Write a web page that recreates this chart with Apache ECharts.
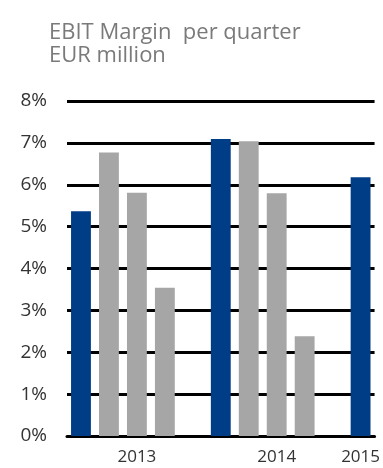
<!DOCTYPE html>
<html>
<head>
<meta charset="utf-8">
<script src="https://cdn.jsdelivr.net/npm/echarts@6/dist/echarts.min.js"></script>
<style>html,body{margin:0;padding:0;background:#fff}#c{width:383px;height:468px}</style>
</head>
<body>
<div id="c"></div>
<script>
// Categories: one slot per quarter, with empty slots separating years
const slots = ['2013Q1','2013Q2','2013Q3','2013Q4','gap1','2014Q1','2014Q2','2014Q3','2014Q4','gap2','2015Q1'];
const slotLabels = ['', '', '2013', '', '', '', '', '2014', '', '', '2015'];
const quarters = ['Q1','Q2','Q3','Q4', null, 'Q1','Q2','Q3','Q4', null, 'Q1'];
const margins = [5.37, 6.77, 5.81, 3.54, null, 7.09, 7.04, 5.80, 2.38, null, 6.18];
const yTicks = [0,1,2,3,4,5,6,7,8];

const BLUE = '#003d87', GREY = '#a6a6a6';
const data = margins.map((v, i) => ({
  value: v,
  itemStyle: { color: quarters[i] === 'Q1' ? BLUE : GREY }
}));

const chart = echarts.init(document.getElementById('c'), null, {renderer:'canvas'});
const FONT = 'Open Sans';
chart.setOption({
  animation: false,
  title: {
    text: 'EBIT Margin  per quarter',
    subtext: 'EUR million',
    left: 44, top: 17,
    itemGap: 1,
    textStyle: { fontFamily: FONT, fontSize: 22, fontWeight: 'normal', color: '#7a7a7a' },
    subtextStyle: { fontFamily: FONT, fontSize: 22, fontWeight: 'normal', color: '#7a7a7a' }
  },
  grid: { left: 67, right: 8, top: 101, bottom: 32 },
  xAxis: {
    type: 'category',
    data: slots,
    axisTick: { show: false },
    axisLine: { lineStyle: { color: '#000', width: 3 } },
    axisLabel: {
      interval: 0, margin: 13,
      fontFamily: FONT, fontSize: 17, color: '#333',
      formatter: (v, i) => slotLabels[i]
    }
  },
  yAxis: {
    type: 'value',
    min: yTicks[0], max: yTicks[yTicks.length-1], interval: 1,
    axisLine: { show: false },
    axisTick: { show: false },
    splitLine: { lineStyle: { color: '#000', width: 3 } },
    axisLabel: {
      margin: 20, fontFamily: FONT, fontSize: 19, color: '#333',
      formatter: '{value}%'
    }
  },
  series: [{
    type: 'bar',
    data: data,
    barWidth: '71%',
    z: 3
  }]
});
</script>
</body>
</html>
